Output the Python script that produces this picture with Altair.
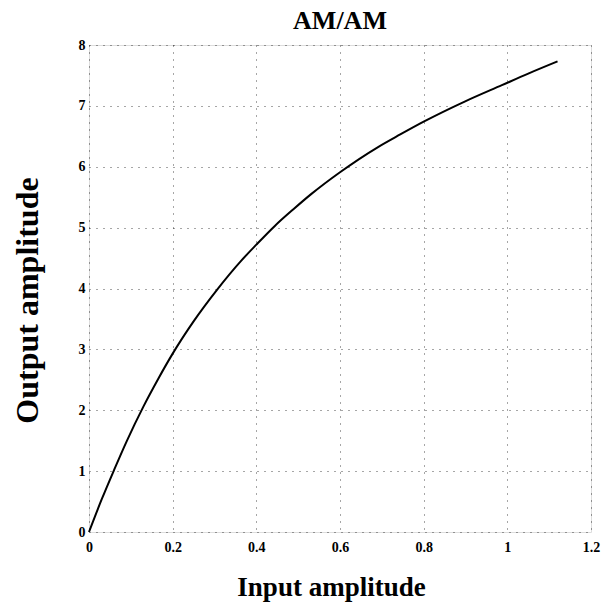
import altair as alt
import pandas as pd

# Curve (Input amplitude -> Output amplitude)
input_amp = [0, 0.03, 0.06, 0.09, 0.13, 0.165, 0.2, 0.25, 0.305, 0.363, 0.40,
             0.443, 0.49, 0.531, 0.6, 0.69, 0.744, 0.80, 0.898, 0.987, 1.05, 1.12]
output_amp = [0, 0.53, 1.02, 1.49, 2.06, 2.51, 2.93, 3.46, 3.97, 4.45, 4.72,
              5.02, 5.31, 5.55, 5.91, 6.32, 6.53, 6.74, 7.07, 7.34, 7.53, 7.73]

x_ticks = [0, 0.2, 0.4, 0.6, 0.8, 1.0, 1.2]
y_ticks = [0, 1, 2, 3, 4, 5, 6, 7, 8]

df = pd.DataFrame({"x": input_amp, "y": output_amp})

FONT = "Liberation Serif"

chart = alt.Chart(df).mark_line(color="black", strokeWidth=2, interpolate="monotone").encode(
    x=alt.X("x:Q",
            scale=alt.Scale(domain=[0, 1.2], nice=False, zero=False),
            axis=alt.Axis(values=x_ticks, format="~g", title="Input amplitude",
                          grid=True, gridColor="black", gridDash=[1, 6], gridOpacity=0.7,
                          gridWidth=1, ticks=False, domain=False, labelPadding=8,
                          labelFont=FONT, labelFontSize=14, labelFontWeight="bold",
                          labelColor="black", labelFlush=False,
                          titleFont=FONT, titleFontSize=27, titleFontWeight="bold",
                          titleColor="black", titleX=242, titleY=63,
                          titleBaseline="alphabetic", titleAlign="center")),
    y=alt.Y("y:Q",
            scale=alt.Scale(domain=[0, 8], nice=False, zero=False),
            axis=alt.Axis(values=y_ticks, format="~g", title="Output amplitude",
                          grid=True, gridColor="black", gridDash=[1, 6], gridOpacity=0.7,
                          gridWidth=1, ticks=False, domain=False, labelPadding=4,
                          labelFont=FONT, labelFontSize=14, labelFontWeight="bold",
                          labelColor="black", labelFlush=False,
                          titleFont=FONT, titleFontSize=32, titleFontWeight="bold",
                          titleColor="black", titleX=-52, titleY=255, titleAngle=270,
                          titleBaseline="alphabetic", titleAlign="center")),
).properties(
    width=502,
    height=487,
    title=alt.TitleParams("AM/AM", font=FONT, fontSize=26, fontWeight="bold",
                          color="black", anchor="middle", offset=4),
    autosize=alt.AutoSizeParams(type="none"),
    padding={"left": 89, "top": 45, "right": 13, "bottom": 78},
).configure_view(
    stroke="black", strokeWidth=2
).configure(background="white")

chart.save("out.html", embed_options={"renderer": "svg", "actions": False})
